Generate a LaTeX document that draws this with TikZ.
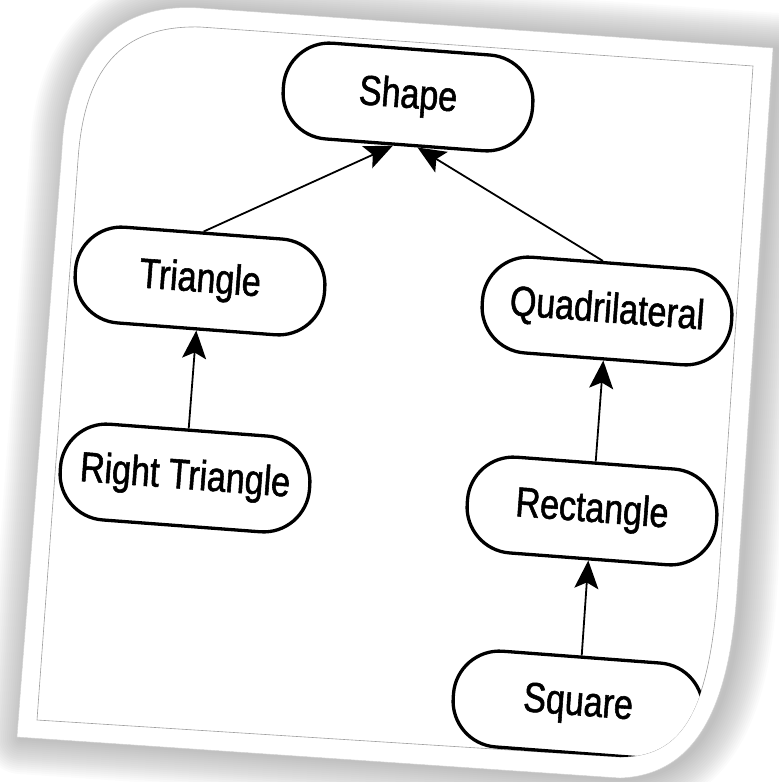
\documentclass[tikz,border=0pt]{standalone}
\usepackage{fontspec}
\setmainfont{Liberation Sans}
\newfontfamily\diafont[FakeStretch=0.81,FakeBold=1.3]{Liberation Sans}
\usetikzlibrary{arrows.meta,calc}
\begin{document}
\begin{tikzpicture}[x=1pt,y=-1pt,
  cls/.style={draw=black, line width=3.3pt, rounded corners=46pt,
    minimum width=250pt, minimum height=96pt, rotate=-4.3,
    font=\diafont\fontsize{42}{48}\selectfont, inner sep=0pt, fill=white},
  link/.style={line width=1.8pt, -{Stealth[length=28pt,width=24pt,inset=6pt]}},
  shadowline/.style={black, opacity=0.014, line join=round},
]
\useasboundingbox (0,0) rectangle (779,782);
\def\outerpath{(17,737) -- (62,150) .. controls (66,60) and (110,2) .. (200,8) -- (773,48) -- (737,590) .. controls (730,700) and (700,775) .. (620,778) -- cycle}
\def\innerpath{(37,720) -- (78,160) .. controls (84,70) and (120,25) .. (200,27) -- (753,66) -- (720,560) .. controls (712,700) and (690,757) .. (620,757) -- cycle}
% soft shadow
\foreach \w in {72,68,...,4} {
  \draw[shadowline, line width=\w pt, shift={(4,1)}] \outerpath;
}
% sheet
\fill[white] \outerpath;
\draw[gray!35, line width=0.4pt] \outerpath;
\draw[gray!75, line width=0.6pt] \innerpath;
\begin{scope}
\clip \innerpath;
\node[cls] (shape) at (408,97) {Shape};
\node[cls] (tri) at (200,281) {Triangle};
\node[cls] (rt) at (185,478) {Right Triangle};
\node[cls] (quad) at (607,311) {Quadrilateral};
\node[cls] (rect) at (592,511) {Rectangle};
\node[cls] (sq) at (578,705) {Square};
\draw[link] (tri.north) -- (shape.257);
\draw[link] (quad.99) -- (shape.285);
\draw[link] (rt.north) -- (tri.south);
\draw[link] (rect.north) -- (quad.south);
\draw[link] (sq.north) -- (rect.south);
\end{scope}
\end{tikzpicture}
\end{document}
